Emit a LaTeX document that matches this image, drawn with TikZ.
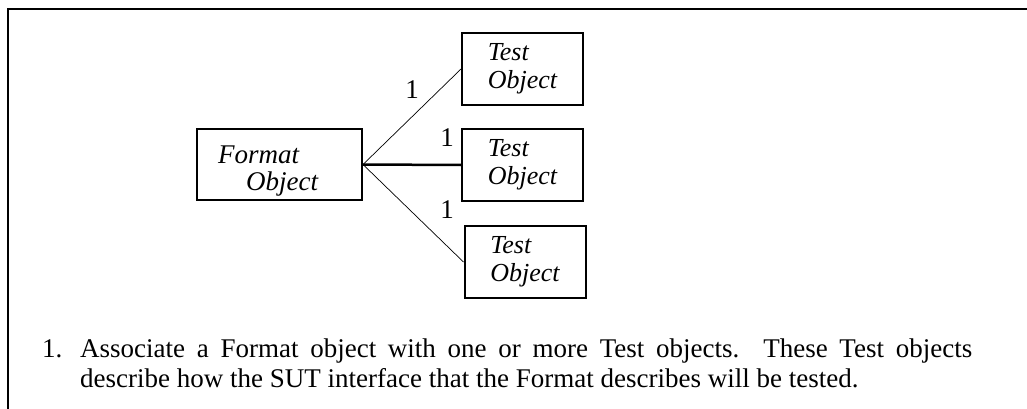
\documentclass[tikz,border=0pt]{standalone}
\usepackage{fontspec}
\setmainfont{Liberation Serif}
\begin{document}
\begin{tikzpicture}[x=1pt,y=-1pt]
\useasboundingbox (0,0) rectangle (1027,409);

\tikzstyle{box}=[draw,line width=2pt,minimum width=165pt,minimum height=71pt,inner sep=0pt]
\tikzstyle{testbox}=[draw,line width=2pt,minimum width=121pt,minimum height=72pt,inner sep=0pt,align=left,font=\fontsize{26}{28}\selectfont\itshape]
\tikzstyle{link}=[line width=0.7pt]
\tikzstyle{mult}=[font=\fontsize{27}{28}\selectfont,inner sep=0pt]

% frame
\draw[line width=2pt] (1027,9) -- (8,9) -- (8,409);

% points
\path (279.5,164.5) node[box] (Format) {};
\path (218,171.5) node[anchor=west,align=left,inner sep=0pt,font=\fontsize{27}{27}\selectfont\itshape] (FormatName) {Format\\\hspace*{28pt}Object};
\path (522.5,69) node[testbox] (TestA) {Test\\Object};
\path (522.5,165) node[testbox] (TestB) {Test\\Object};
\path (525,262) node[testbox] (TestC) {Test\\Object};

% edges
\draw[link] (Format.east) -- (TestA.west);
\draw[line width=2.5pt] (Format.east) -- (TestB.west);
\draw[link] (Format.east) -- (TestC.west);

\path (412,90) node[mult] (MultA) {1};
\path (447,138) node[mult] (MultB) {1};
\path (447,210) node[mult] (MultC) {1};

% text
\path (42,387) node[anchor=base west,align=left,inner sep=0pt,font=\fontsize{27}{30}\selectfont] (Caption)
  {\makebox[38pt][l]{1.}\makebox[892pt][s]{Associate a Format object with one or more Test objects. These Test objects}\\
   \hspace*{38pt}describe how the SUT interface that the Format describes will be tested.};

\end{tikzpicture}
\end{document}
